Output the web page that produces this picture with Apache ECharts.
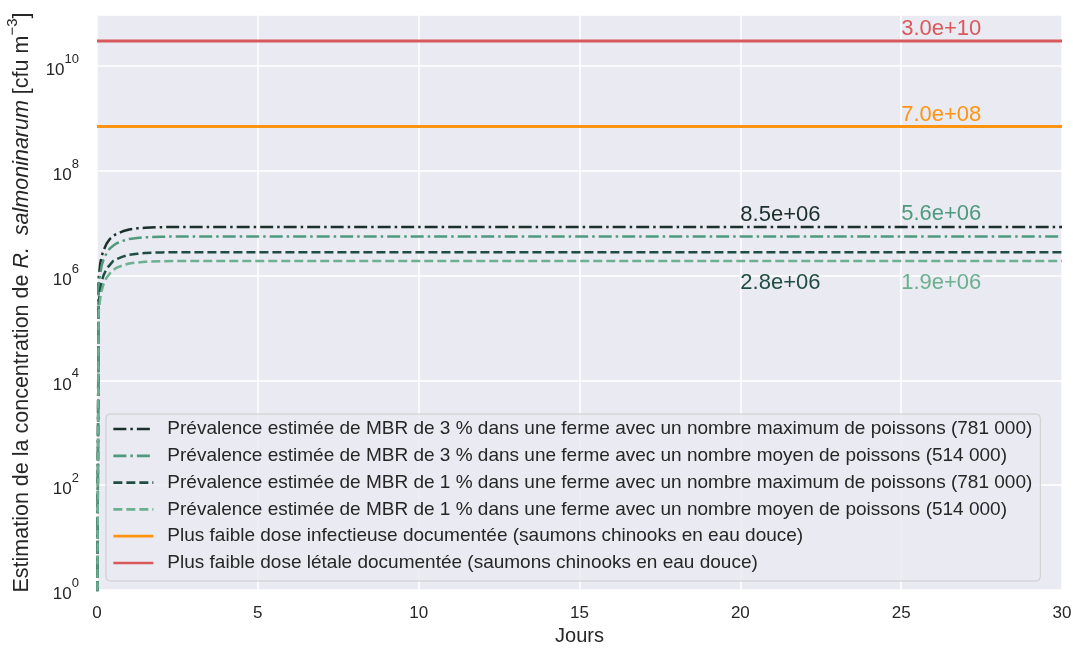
<!DOCTYPE html>
<html>
<head>
<meta charset="utf-8">
<script src="https://cdn.jsdelivr.net/npm/echarts@6/dist/echarts.min.js"></script>
<style>
html,body{margin:0;padding:0;background:#fff;}
#chart{width:1073px;height:650px;}
</style>
</head>
<body>
<div id="chart"></div>
<script>
// ---- data ----
const days = [0, 0.05, 0.1, 0.15, 0.2, 0.3, 0.4, 0.5, 0.6, 0.8, 1.0, 1.25, 1.5, 2, 2.5, 3, 4, 5, 10, 15, 20, 25, 30];
const prev3Max = [0.01, 8.8e5, 1.7e6, 2.4e6, 3.0e6, 4.1e6, 5.0e6, 5.7e6, 6.2e6, 7.0e6, 7.6e6, 8.0e6, 8.2e6, 8.4e6, 8.5e6, 8.5e6, 8.5e6, 8.5e6, 8.5e6, 8.5e6, 8.5e6, 8.5e6, 8.5e6];
const prev3Moy = [0.01, 5.8e5, 1.1e6, 1.6e6, 2.0e6, 2.7e6, 3.3e6, 3.7e6, 4.1e6, 4.6e6, 5.0e6, 5.2e6, 5.4e6, 5.5e6, 5.6e6, 5.6e6, 5.6e6, 5.6e6, 5.6e6, 5.6e6, 5.6e6, 5.6e6, 5.6e6];
const prev1Max = [0.01, 2.9e5, 5.5e5, 7.9e5, 1.0e6, 1.35e6, 1.6e6, 1.9e6, 2.05e6, 2.3e6, 2.5e6, 2.6e6, 2.7e6, 2.77e6, 2.8e6, 2.8e6, 2.8e6, 2.8e6, 2.8e6, 2.8e6, 2.8e6, 2.8e6, 2.8e6];
const prev1Moy = [0.01, 2.0e5, 3.7e5, 5.3e5, 6.8e5, 9.2e5, 1.1e6, 1.27e6, 1.4e6, 1.57e6, 1.7e6, 1.78e6, 1.83e6, 1.88e6, 1.9e6, 1.9e6, 1.9e6, 1.9e6, 1.9e6, 1.9e6, 1.9e6, 1.9e6, 1.9e6];
const doseInfectieuse = 7.0e8;
const doseLetale = 3.0e10;
const xTicks = [0, 5, 10, 15, 20, 25, 30];
const yTickExponents = [0, 2, 4, 6, 8, 10];
const seriesNames = [
  'Prévalence estimée de MBR de 3 % dans une ferme avec un nombre maximum de poissons (781 000)',
  'Prévalence estimée de MBR de 3 % dans une ferme avec un nombre moyen de poissons (514 000)',
  'Prévalence estimée de MBR de 1 % dans une ferme avec un nombre maximum de poissons (781 000)',
  'Prévalence estimée de MBR de 1 % dans une ferme avec un nombre moyen de poissons (514 000)',
  'Plus faible dose infectieuse documentée (saumons chinooks en eau douce)',
  'Plus faible dose létale documentée (saumons chinooks en eau douce)'
];
const labelDays = [20, 25, 20, 25, 25, 25];

// ---- helpers ----
const FONT = "'Liberation Sans', Arial, sans-serif";
const TXT = '#262626';
function fmtSci(v) {
  const e = Math.floor(Math.log10(v) + 1e-9);
  const m = v / Math.pow(10, e);
  return m.toFixed(1) + 'e' + (e >= 0 ? '+' : '-') + String(Math.abs(e)).padStart(2, '0');
}
function pairs(xs, ys) { return xs.map((x, i) => [x, ys[i]]); }

const colors = ['#1b2f2b', '#4f9a7d', '#1f4d42', '#6bb08f', '#ff9412', '#d9585a'];
const dashes = [[13, 4, 2.5, 4], [13, 4, 2.5, 4], [9, 4], [9, 4], 'solid', 'solid'];
const widths = [2.5, 2.5, 2.5, 2.5, 3, 3];
const curves = [prev3Max, prev3Moy, prev1Max, prev1Moy];
// label placement styling: [verticalAlign, offsetY]
const labelPlace = [['bottom', -1], ['bottom', -11], ['top', 20], ['top', 11], ['bottom', -1], ['bottom', -1]];

function labelPoint(i, value) {
  return {
    symbol: 'circle', symbolSize: 0.01, silent: true,
    itemStyle: { color: 'transparent' },
    data: [{
      coord: [labelDays[i], value], value: value,
      label: {
        show: true, formatter: fmtSci(value), position: [0, 0],
        align: 'left', verticalAlign: labelPlace[i][0], offset: [0, labelPlace[i][1]],
        color: colors[i], fontSize: 22, fontFamily: FONT
      }
    }]
  };
}

const series = [];
curves.forEach((c, i) => {
  series.push({
    name: seriesNames[i], type: 'line', data: pairs(days, c),
    symbol: 'none', smooth: false, clip: true,
    lineStyle: { color: colors[i], width: widths[i], type: dashes[i] },
    itemStyle: { color: colors[i] },
    markPoint: labelPoint(i, Math.max(...c)),
    z: 3 + i
  });
});
[doseInfectieuse, doseLetale].forEach((d, k) => {
  const i = 4 + k;
  series.push({
    name: seriesNames[i], type: 'line', data: [[0, d], [30, d]],
    symbol: 'none', clip: true,
    lineStyle: { color: colors[i], width: widths[i], type: 'solid' },
    itemStyle: { color: colors[i] },
    markPoint: labelPoint(i, d),
    z: 3 + i
  });
});

const chart = echarts.init(document.getElementById('chart'), null, { renderer: 'canvas' });
chart.setOption({
  animation: false,
  backgroundColor: '#ffffff',
  textStyle: { fontFamily: FONT },
  grid: {
    left: 97, right: 11, top: 15, bottom: 60, containLabel: false,
    outerBoundsMode: 'none',
    show: true, backgroundColor: '#eaeaf2', borderWidth: 0
  },
  legend: {
    orient: 'vertical', left: 106, top: 414,
    padding: [5, 8, 8, 6], itemGap: 6.8, itemWidth: 40, itemHeight: 14,
    backgroundColor: 'rgba(234,234,242,0.85)', borderColor: '#cccccc', borderWidth: 1, borderRadius: 4,
    itemStyle: { opacity: 0 },
    lineStyle: { width: 2.7 },
    textStyle: { color: TXT, fontSize: 19, fontFamily: FONT, lineHeight: 20, padding: [0, 0, 0, 9] },
    data: seriesNames
  },
  xAxis: {
    type: 'value', min: 0, max: 30, interval: 5,
    name: 'Jours', nameLocation: 'middle', nameGap: 36,
    nameTextStyle: { color: TXT, fontSize: 20, fontFamily: FONT },
    axisLine: { show: false }, axisTick: { show: false },
    axisLabel: {
      color: TXT, fontSize: 17, fontFamily: FONT, margin: 15,
      formatter: v => xTicks.includes(v) ? String(v) : ''
    },
    splitLine: { show: true, lineStyle: { color: '#ffffff', width: 1.5 } }
  },
  yAxis: {
    type: 'log', logBase: 10, min: 1, max: 9.4e10, interval: 2,
    name: '{n|Estimation de la concentration de }{i|R.  salmoninarum}{n| [cfu m}{s|−3}{n|]}',
    nameLocation: 'middle', nameGap: 64, nameRotate: 90,
    nameTextStyle: {
      color: TXT, fontFamily: FONT,
      rich: {
        n: { fontSize: 21.5, color: TXT, fontFamily: FONT, lineHeight: 28, verticalAlign: 'bottom' },
        i: { fontSize: 21.5, color: TXT, fontFamily: FONT, fontStyle: 'italic', lineHeight: 28, verticalAlign: 'bottom' },
        s: { fontSize: 15, color: TXT, fontFamily: FONT, lineHeight: 28, verticalAlign: 'top' }
      }
    },
    axisLine: { show: false }, axisTick: { show: false },
    axisLabel: {
      margin: 18,
      formatter: function (v) {
        const e = Math.log10(v);
        const r = Math.round(e);
        if (Math.abs(e - r) > 1e-6 || !yTickExponents.includes(r)) return '';
        return '{b|10}{s|' + r + '}';
      },
      rich: {
        b: { fontSize: 17, color: TXT, fontFamily: FONT, lineHeight: 26, verticalAlign: 'bottom' },
        s: { fontSize: 13, color: TXT, fontFamily: FONT, lineHeight: 26, verticalAlign: 'top' }
      }
    },
    splitLine: { show: true, lineStyle: { color: '#ffffff', width: 1.5 } },
    minorSplitLine: { show: false }
  },
  series: series
});
</script>
</body>
</html>
